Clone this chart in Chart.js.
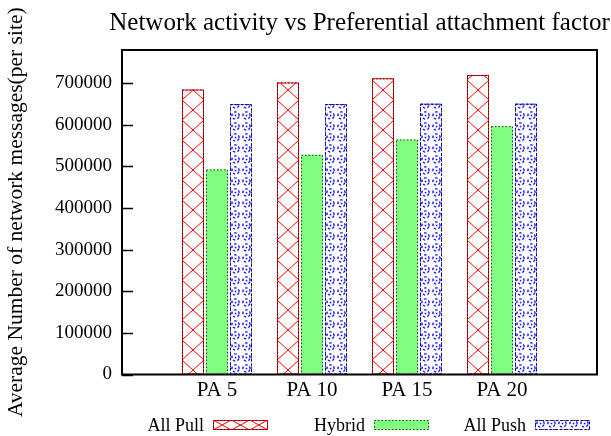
<!DOCTYPE html>
<html><head><meta charset="utf-8">
<script src="https://cdn.jsdelivr.net/npm/chart.js@4/dist/chart.umd.min.js"></script>
<style>html,body{margin:0;padding:0;background:#fff}#wrap{width:611px;height:436px}</style>
</head><body><div id="wrap"><canvas id="c" width="611" height="436"></canvas></div>
<script>
const categories = ['PA 5', 'PA 10', 'PA 15', 'PA 20'];
const allPull = [685000, 702000, 712000, 720000];
const hybrid = [493000, 528000, 565000, 597000];
const allPush = [650000, 650000, 651000, 651000];
const seriesNames = ['All Pull', 'Hybrid', 'All Push'];
const yTicks = [0, 100000, 200000, 300000, 400000, 500000, 600000, 700000];
const yMax = 780000;
const chartTitle = 'Network activity vs Preferential attachment factor';
const yTitle = 'Average Number of network messages(per site)';

const SERIF = "'Liberation Serif', 'Times New Roman', serif";

function crossTile() {
  const c = document.createElement('canvas'); c.width = 22; c.height = 20;
  const g = c.getContext('2d');
  g.strokeStyle = '#ff0000'; g.lineWidth = 1;
  g.beginPath(); g.moveTo(0, 0); g.lineTo(22, 20); g.moveTo(22, 0); g.lineTo(0, 20); g.stroke();
  return c;
}
function dotTile() {
  const c = document.createElement('canvas'); c.width = 11; c.height = 11;
  const g = c.getContext('2d');
  g.strokeStyle = '#1010ff'; g.lineWidth = 1.4;
  g.setLineDash([2.5, 2.2]);
  g.beginPath(); g.arc(5.5, 5.5, 3.6, 0.3, Math.PI * 2 + 0.3); g.stroke();
  g.setLineDash([]);
  g.fillStyle = '#0000ff';
  g.fillRect(4.8, 4.8, 1.5, 1.5);
  return c;
}
const crossCanvas = crossTile();
const dotCanvas = dotTile();
const tmp = document.createElement('canvas').getContext('2d');
function patternAt(tile, dx) {
  const p = tmp.createPattern(tile, 'repeat');
  if (p.setTransform) p.setTransform(new DOMMatrix().translate(dx, 0));
  return p;
}

const pad = a => [null, ...a, null];
const labels = ['', ...categories, ''];

const styles = [
  { edge: '#ff0000' },
  { fill: '#80ff80', edge: null },
  { edge: '#0000ff' }
];

function barFill(tile, slot) {
  return (ctx) => {
    const xs = ctx.chart.scales && ctx.chart.scales.x;
    if (!xs || ctx.dataIndex == null) return tmp.createPattern(tile, 'repeat');
    const px = xs.getPixelForValue(ctx.dataIndex);
    const spacing = xs.getPixelForValue(1) - xs.getPixelForValue(0);
    const group = spacing * 0.758, slotW = group / 3;
    const left = px - group / 2 + slot * slotW + slotW * (1 - 0.917) / 2;
    return patternAt(tile, left);
  };
}

const decor = {
  id: 'decor',
  afterDatasetsDraw(chart) {
    const ctx = chart.ctx;
    chart.data.datasets.forEach((ds, di) => {
      const meta = chart.getDatasetMeta(di);
      meta.data.forEach((el, i) => {
        if (ds.data[i] == null) return;
        const p = el.getProps(['x', 'y', 'base', 'width'], true);
        const l = p.x - p.width / 2, t = p.y, h = p.base - p.y;
        ctx.save();
        ctx.lineWidth = 1;
        if (styles[di].edge) {
          ctx.strokeStyle = styles[di].edge;
          ctx.setLineDash(di === 2 ? [3, 2] : []);
          ctx.strokeRect(l + 0.5, t + 0.5, p.width - 1, h - 1);
        }
        ctx.strokeStyle = 'rgba(0,0,0,0.75)';
        ctx.setLineDash([1.5, 2]);
        ctx.strokeRect(l + 0.5, t + 0.5, p.width - 1, h - 1);
        ctx.restore();
      });
    });
  },
  afterDraw(chart) {
    const ctx = chart.ctx;
    const a = chart.chartArea;
    const ys = chart.scales.y;
    ctx.save();
    ctx.strokeStyle = '#000'; ctx.lineWidth = 2;
    ctx.strokeRect(a.left, a.top, a.right - a.left, a.bottom - a.top);
    ctx.lineWidth = 1.5;
    yTicks.forEach(v => {
      const py = Math.round(ys.getPixelForValue(v)) + 0.5;
      ctx.beginPath(); ctx.moveTo(a.left, py); ctx.lineTo(a.left + 11, py); ctx.stroke();
    });
    ctx.fillStyle = '#000';
    ctx.font = '25px ' + SERIF;
    ctx.textAlign = 'center'; ctx.textBaseline = 'alphabetic';
    ctx.fillText(chartTitle, (a.left + a.right) / 2, 30);
    ctx.font = '18px ' + SERIF;
    ctx.textAlign = 'right'; ctx.textBaseline = 'middle';
    const colW = 161, bx0 = 213, bw = 55, bh = 10, by = 420;
    seriesNames.forEach((name, i) => {
      const bx = bx0 + i * colW;
      ctx.fillStyle = '#000';
      ctx.fillText(name, bx - 9, by + bh / 2 + 1);
      if (i === 0) {
        ctx.save(); ctx.beginPath(); ctx.rect(bx, by, bw, bh); ctx.clip();
        ctx.strokeStyle = '#ff0000'; ctx.lineWidth = 1;
        ctx.beginPath();
        for (let k = 0; k < 3; k++) {
          const x0 = bx + k * bw / 3, x1 = x0 + bw / 3;
          ctx.moveTo(x0, by); ctx.lineTo(x1, by + bh); ctx.moveTo(x1, by); ctx.lineTo(x0, by + bh);
        }
        ctx.stroke(); ctx.restore();
      } else {
        ctx.fillStyle = i === 2 ? patternAt(dotCanvas, bx) : styles[i].fill;
        ctx.fillRect(bx, by, bw, bh);
      }
      ctx.lineWidth = 1;
      if (styles[i].edge) {
        ctx.strokeStyle = styles[i].edge; ctx.setLineDash(i === 2 ? [3, 2] : []);
        ctx.strokeRect(bx + 0.5, by + 0.5, bw - 1, bh - 1);
      }
      ctx.strokeStyle = 'rgba(0,0,0,0.75)'; ctx.setLineDash([1.5, 2]);
      ctx.strokeRect(bx + 0.5, by + 0.5, bw - 1, bh - 1);
      ctx.setLineDash([]);
    });
    ctx.restore();
  }
};

new Chart(document.getElementById('c'), {
  type: 'bar',
  data: {
    labels: labels,
    datasets: [
      { label: seriesNames[0], data: pad(allPull), backgroundColor: barFill(crossCanvas, 0), borderWidth: 0 },
      { label: seriesNames[1], data: pad(hybrid), backgroundColor: '#80ff80', borderWidth: 0 },
      { label: seriesNames[2], data: pad(allPush), backgroundColor: barFill(dotCanvas, 2), borderWidth: 0 }
    ]
  },
  options: {
    responsive: false,
    animation: false,
    devicePixelRatio: 1,
    categoryPercentage: 0.758,
    barPercentage: 0.917,
    layout: { padding: { left: 0, top: 50, right: 14, bottom: 0 } },
    plugins: { legend: { display: false }, title: { display: false }, tooltip: { enabled: false } },
    scales: {
      x: {
        offset: false,
        grid: { display: false, drawTicks: false },
        border: { display: false },
        ticks: { autoSkip: false, maxRotation: 0, padding: 3, color: '#000', font: { family: SERIF, size: 21 } },
        afterFit(s) { s.height = 61.5; }
      },
      y: {
        min: 0, max: yMax,
        grid: { display: false, drawTicks: false },
        border: { display: false },
        afterBuildTicks(s) { s.ticks = yTicks.map(v => ({ value: v })); },
        ticks: { padding: 10, color: '#000', font: { family: SERIF, size: 19 }, callback: v => String(v) },
        title: { display: true, text: yTitle, color: '#000', font: { family: SERIF, size: 21.5 }, padding: { top: 3, bottom: 0 } },
        afterFit(s) { s.width = 122; }
      }
    }
  },
  plugins: [decor]
});
</script>
</body></html>
